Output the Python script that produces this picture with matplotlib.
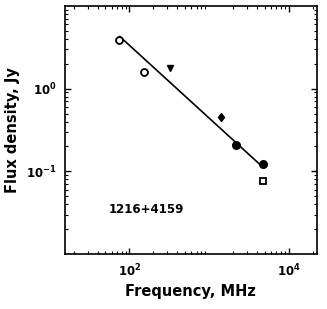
import numpy as np
import matplotlib.pyplot as plt

# Measured flux densities (MHz, Jy)
open_circ_freq = [74, 151]
open_circ_flux = [3.85, 1.6]
tri_freq = [325]
tri_flux = [1.77]
diam_freq = [1400]
diam_flux = [0.46]
fill_circ_freq = [2160, 4700]
fill_circ_flux = [0.207, 0.122]
square_freq = [4800]
square_flux = [0.076]

# Power-law fit line end points
fit_freq = [76, 4700]
fit_flux = [4.27, 0.113]

source_name = '1216+4159'

fig = plt.figure(figsize=(3.27, 3.09), dpi=100)
ax = fig.add_axes([65/327, 1 - 254/309, 251.7/327, 248/309])

ax.plot(fit_freq, fit_flux, 'k-', lw=1.2)
ax.plot(open_circ_freq, open_circ_flux, 'o', mfc='white', mec='k', mew=1.3, ms=5)
ax.plot(tri_freq, tri_flux, 'v', color='k', ms=4.5)
ax.plot(diam_freq, diam_flux, 'd', color='k', ms=4.5)
ax.plot(fill_circ_freq, fill_circ_flux, 'o', color='k', ms=5.5)
ax.plot(square_freq, square_flux, 's', mfc='white', mec='k', mew=1.3, ms=5)

ax.set_xscale('log')
ax.set_yscale('log')
ax.set_xlim(15.6, 22400)
ax.set_ylim(0.01, 10)
ax.set_xticks([1e2, 1e4])
ax.set_yticks([1e-1, 1e0])

ax.tick_params(which='both', direction='in', top=True, right=True)
ax.tick_params(which='major', length=4, width=1, labelsize=8.5, pad=6)
ax.tick_params(which='minor', length=2, width=0.8)
for lab in ax.get_xticklabels() + ax.get_yticklabels():
    lab.set_fontweight('bold')
for s in ax.spines.values():
    s.set_linewidth(1.2)

ax.set_xlabel('Frequency, MHz', fontsize=10.5, fontweight='bold', labelpad=4)
ax.set_ylabel('Flux density, Jy', fontsize=10.5, fontweight='bold', labelpad=4)

ax.text(0.175, 0.18, source_name, transform=ax.transAxes, fontsize=8.5,
        fontweight='bold', va='center')

fig.savefig('out.png', dpi=100)
